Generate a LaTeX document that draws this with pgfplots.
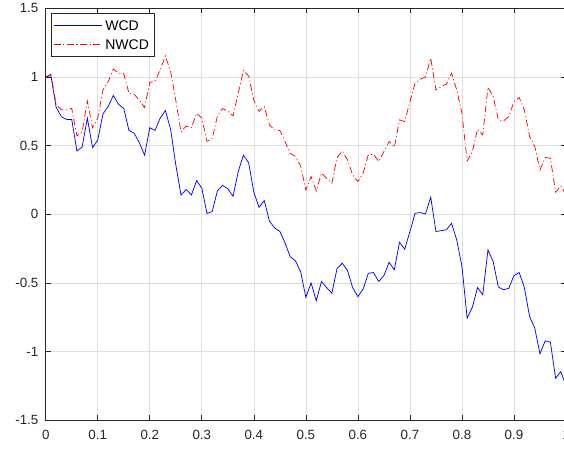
\documentclass[border=0pt]{standalone}
\usepackage{fontspec}
\setmainfont{Liberation Sans}
\usepackage{pgfplots}
\usepackage{pgfplotstable}
\pgfplotsset{compat=1.18}
\definecolor{axgray}{rgb}{0.15,0.15,0.15}
\definecolor{gridgray}{rgb}{0.875,0.875,0.875}
\pgfplotstableread{
x y
0.00 1.00
0.01 1.01
0.02 0.78
0.03 0.71
0.04 0.69
0.05 0.69
0.06 0.46
0.07 0.49
0.08 0.70
0.09 0.485
0.10 0.54
0.11 0.73
0.12 0.785
0.13 0.865
0.14 0.80
0.15 0.77
0.16 0.61
0.17 0.59
0.18 0.52
0.19 0.43
0.20 0.63
0.21 0.61
0.22 0.70
0.23 0.755
0.24 0.62
0.25 0.36
0.26 0.14
0.27 0.18
0.28 0.14
0.29 0.245
0.30 0.19
0.31 0.005
0.32 0.02
0.33 0.17
0.34 0.21
0.35 0.185
0.36 0.13
0.37 0.31
0.38 0.43
0.39 0.375
0.40 0.16
0.41 0.05
0.42 0.10
0.43 -0.05
0.44 -0.10
0.45 -0.125
0.46 -0.21
0.47 -0.31
0.48 -0.34
0.49 -0.42
0.50 -0.605
0.51 -0.50
0.52 -0.63
0.53 -0.49
0.54 -0.535
0.55 -0.575
0.56 -0.395
0.57 -0.357
0.58 -0.41
0.59 -0.535
0.60 -0.60
0.61 -0.546
0.62 -0.43
0.63 -0.425
0.64 -0.49
0.65 -0.447
0.66 -0.35
0.67 -0.405
0.68 -0.204
0.69 -0.255
0.70 -0.126
0.71 0.007
0.72 0.012
0.73 0.002
0.74 0.124
0.75 -0.126
0.76 -0.12
0.77 -0.114
0.78 -0.066
0.79 -0.187
0.80 -0.38
0.81 -0.757
0.82 -0.677
0.83 -0.534
0.84 -0.587
0.85 -0.26
0.86 -0.345
0.87 -0.53
0.88 -0.55
0.89 -0.54
0.90 -0.447
0.91 -0.425
0.92 -0.534
0.93 -0.745
0.94 -0.83
0.95 -1.017
0.96 -0.922
0.97 -0.932
0.98 -1.194
0.99 -1.146
1.00 -1.25
}\wcd
\pgfplotstableread{
x y
0.00 1.00
0.01 1.02
0.02 0.80
0.03 0.76
0.04 0.76
0.05 0.77
0.06 0.57
0.07 0.60
0.08 0.825
0.09 0.63
0.10 0.70
0.11 0.905
0.12 0.965
0.13 1.058
0.14 1.027
0.15 1.024
0.16 0.88
0.17 0.874
0.18 0.83
0.19 0.777
0.20 0.96
0.21 0.97
0.22 1.05
0.23 1.153
0.24 1.04
0.25 0.83
0.26 0.60
0.27 0.643
0.28 0.63
0.29 0.735
0.30 0.70
0.31 0.53
0.32 0.55
0.33 0.716
0.34 0.77
0.35 0.75
0.36 0.716
0.37 0.88
0.38 1.046
0.39 1.007
0.40 0.83
0.41 0.75
0.42 0.784
0.43 0.65
0.44 0.614
0.45 0.61
0.46 0.53
0.47 0.444
0.48 0.42
0.49 0.352
0.50 0.177
0.51 0.274
0.52 0.17
0.53 0.30
0.54 0.262
0.55 0.226
0.56 0.413
0.57 0.46
0.58 0.396
0.59 0.286
0.60 0.238
0.61 0.30
0.62 0.432
0.63 0.437
0.64 0.384
0.65 0.456
0.66 0.53
0.67 0.488
0.68 0.687
0.69 0.675
0.70 0.82
0.71 0.954
0.72 0.983
0.73 1.00
0.74 1.136
0.75 0.905
0.76 0.93
0.77 0.947
0.78 1.027
0.79 0.905
0.80 0.735
0.81 0.388
0.82 0.456
0.83 0.62
0.84 0.578
0.85 0.925
0.86 0.857
0.87 0.687
0.88 0.68
0.89 0.71
0.90 0.82
0.91 0.85
0.92 0.76
0.93 0.566
0.94 0.493
0.95 0.323
0.96 0.413
0.97 0.408
0.98 0.16
0.99 0.206
1.00 0.14
}\nwcd
\begin{document}
\begin{tikzpicture}
\begin{axis}[
  name=ax,
  scale only axis,
  width=390.3pt, height=309pt,
  xmin=0, xmax=1, ymin=-1.5, ymax=1.5,
  xtick={0,0.1,0.2,0.3,0.4,0.5,0.6,0.7,0.8,0.9,1},
  ytick={-1.5,-1,-0.5,0,0.5,1,1.5},
  /pgf/number format/assume math mode=true,
  tick label style={font=\fontsize{10}{12}\selectfont, text=axgray},
  xticklabel style={yshift=-4pt},
  yticklabel style={xshift=-2pt},
  tick align=inside,
  major tick length=3.9pt,
  major tick style={axgray, line width=0.5pt},
  axis line style={axgray, line width=0.5pt},
  grid=major,
  major grid style={gridgray, line width=0.5pt},
  legend style={at={(0.0102,0.9887)}, anchor=north west,
    draw=axgray, fill=white, line width=0.5pt,
    font=\fontsize{10.5}{12}\selectfont,
    inner xsep=1.75pt, inner ysep=5pt,
    row sep=6.5pt,
    nodes={inner xsep=2.2pt, inner ysep=0pt, text height=8pt, text depth=0pt}},
  legend cell align=left,
  legend image code/.code={\draw[#1] (0pt,0pt) -- (36pt,0pt);},
]
\addplot[blue, line width=0.55pt] table {\wcd};
\addlegendentry{WCD}
\addplot[red, line width=0.55pt, dash pattern=on 5pt off 2pt on 0.8pt off 2pt] table {\nwcd};
\addlegendentry{NWCD}
\end{axis}
\pgfresetboundingbox
\useasboundingbox ([xshift=-34.3pt,yshift=-22.3pt]ax.south west) rectangle ([xshift=-1.5pt,yshift=6.2pt]ax.north east);
\end{tikzpicture}
\end{document}
